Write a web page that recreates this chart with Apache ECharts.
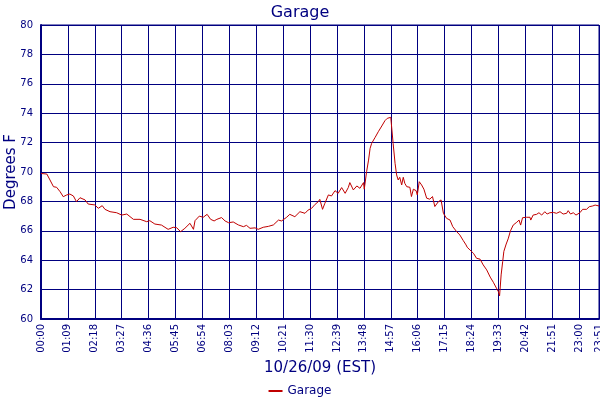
<!DOCTYPE html>
<html>
<head>
<meta charset="utf-8">
<script src="https://cdn.jsdelivr.net/npm/echarts@6/dist/echarts.min.js"></script>
<style>
  html, body { margin: 0; padding: 0; background: #fff; }
  #main { width: 600px; height: 400px; }
</style>
</head>
<body>
<div id="main"></div>
<script>
// minutes since midnight, 10/26/09
var minutes = [
  0, 15, 23, 32, 40, 49, 57, 66, 74, 83, 91, 100, 113, 121, 138, 147, 157, 164, 177, 194,
  207, 220, 237, 254, 271, 279, 292, 309, 326, 339, 348, 358, 369, 382, 391, 395, 406, 416, 426, 435,
  444, 451, 463, 472, 481, 493, 506, 519, 527, 536, 549, 557, 570, 583, 596, 609, 617, 630, 638, 651,
  664, 677, 685, 694, 703, 711, 715, 722, 728, 737, 745, 754, 762, 771, 780, 788, 792, 801, 810, 818,
  827, 829, 835, 840, 844, 848, 857, 865, 874, 882, 888, 893, 897, 901, 903, 908, 912, 916, 920, 925,
  929, 933, 938, 946, 950, 955, 962, 965, 970, 976, 982, 989, 997, 1004, 1010, 1019, 1026, 1032, 1040, 1049,
  1056, 1066, 1074, 1083, 1090, 1093, 1100, 1109, 1117, 1126, 1134, 1143, 1152, 1160, 1168, 1173, 1176, 1180, 1184, 1187,
  1193, 1198, 1204, 1211, 1220, 1226, 1230, 1235, 1245, 1254, 1256, 1262, 1271, 1277, 1284, 1292, 1298, 1305, 1314, 1322,
  1331, 1339, 1348, 1352, 1358, 1365, 1372, 1377, 1382, 1389, 1399, 1406, 1415, 1421, 1425, 1431
];
var temps = [
  69.9, 69.86, 69.46, 69.0, 68.96, 68.66, 68.32, 68.44, 68.5, 68.37, 67.98, 68.25, 68.1, 67.82, 67.76, 67.53, 67.71, 67.46, 67.3, 67.23,
  67.07, 67.14, 66.78, 66.78, 66.62, 66.69, 66.46, 66.39, 66.1, 66.24, 66.21, 65.94, 66.17, 66.51, 66.1, 66.69, 67.0, 66.92, 67.12, 66.78,
  66.67, 66.78, 66.9, 66.67, 66.55, 66.6, 66.4, 66.28, 66.37, 66.17, 66.2, 66.1, 66.24, 66.3, 66.4, 66.73, 66.67, 66.92, 67.12, 66.96,
  67.3, 67.19, 67.41, 67.53, 67.8, 67.98, 68.14, 67.46, 67.87, 68.44, 68.37, 68.73, 68.55, 68.94, 68.55, 68.94, 69.28, 68.78, 69.05, 68.89,
  69.28, 68.83, 70.02, 70.81, 71.61, 71.95, 72.36, 72.74, 73.13, 73.49, 73.65, 73.54, 73.72, 73.81, 71.95, 70.59, 69.8, 69.46, 69.64, 69.12,
  69.64, 69.23, 69.0, 68.96, 68.33, 68.83, 68.73, 68.44, 69.34, 69.12, 68.83, 68.22, 68.15, 68.33, 67.65, 67.98, 68.1, 67.19, 66.85, 66.73,
  66.28, 65.94, 65.72, 65.33, 65.04, 64.88, 64.7, 64.47, 64.13, 64.07, 63.68, 63.34, 62.85, 62.5, 62.1, 61.86, 61.57, 63.0, 63.9, 64.6,
  65.1, 65.45, 66.0, 66.39, 66.58, 66.73, 66.39, 66.89, 66.92, 66.92, 66.73, 67.07, 67.12, 67.23, 67.07, 67.3, 67.14, 67.23, 67.25, 67.19,
  67.3, 67.14, 67.19, 67.37, 67.14, 67.23, 67.07, 66.96, 67.23, 67.46, 67.46, 67.64, 67.69, 67.75, 67.82, 67.69
];

var navy = '#000080';
var font = 'DejaVu Sans';

function hhmm(v) {
  var h = Math.floor(v / 60), m = Math.round(v % 60);
  return (h < 10 ? '0' : '') + h + ':' + (m < 10 ? '0' : '') + m;
}

var data = [];
for (var i = 0; i < minutes.length; i++) {
  data.push([minutes[i], temps[i]]);
}

var chart = echarts.init(document.getElementById('main'), null, { renderer: 'canvas' });
var option = {
  animation: false,
  backgroundColor: '#fff',
  textStyle: { fontFamily: font },
  title: {
    text: 'Garage',
    left: 'center',
    top: 0,
    textStyle: { color: navy, fontSize: 16, fontWeight: 'normal', fontFamily: font }
  },
  legend: {
    bottom: -2,
    left: 'center',
    icon: 'rect',
    itemWidth: 14,
    itemHeight: 2,
    itemGap: 4,
    textStyle: { color: navy, fontSize: 12, fontFamily: font },
    data: ['Garage']
  },
  grid: {
    left: 41,
    right: 1,
    top: 25,
    bottom: 81,
    containLabel: false,
    outerBoundsMode: 'none',
    show: true,
    borderColor: navy,
    borderWidth: 1
  },
  xAxis: {
    type: 'value',
    min: 0,
    max: 1431,
    interval: 69,
    name: '10/26/09 (EST)',
    nameLocation: 'middle',
    nameGap: 42,
    nameMoveOverlap: false,
    nameTextStyle: { color: navy, fontSize: 15, fontFamily: font },
    axisLine: { lineStyle: { color: navy, width: 2 } },
    axisTick: { show: false },
    axisLabel: {
      rotate: 90,
      color: navy,
      fontSize: 10,
      fontFamily: font,
      margin: 5,
      showMaxLabel: true,
      formatter: hhmm
    },
    splitLine: { show: true, lineStyle: { color: navy, width: 1 } }
  },
  yAxis: {
    type: 'value',
    min: 60,
    max: 80,
    interval: 2,
    name: 'Degrees F',
    nameLocation: 'middle',
    nameGap: 22,
    nameMoveOverlap: false,
    nameTextStyle: { color: navy, fontSize: 15, fontFamily: font },
    axisLine: { show: true, lineStyle: { color: navy, width: 2 } },
    axisTick: { show: false },
    axisLabel: { color: navy, fontSize: 10, fontFamily: font, margin: 8 },
    splitLine: { show: true, lineStyle: { color: navy, width: 1 } }
  },
  series: [{
    name: 'Garage',
    type: 'line',
    data: data,
    showSymbol: false,
    symbol: 'none',
    lineStyle: { color: '#c00000', width: 1 },
    itemStyle: { color: '#c00000' }
  }]
};
chart.setOption(option);
</script>
</body>
</html>
